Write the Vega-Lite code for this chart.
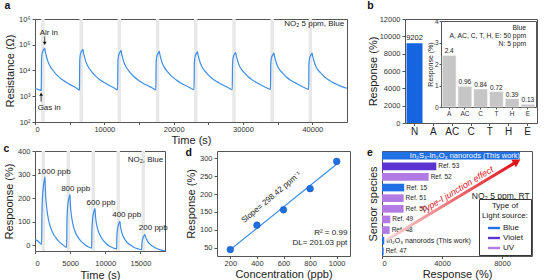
{
  "$schema": "https://vega.github.io/schema/vega-lite/v6.json",
  "padding": {"left": 2, "top": 0, "right": 2, "bottom": 0},
  "spacing": -3,
  "resolve": {"legend": {"color": "independent", "shape": "independent"}},
  "config": {
    "font": "Liberation Sans",
    "view": {"stroke": "#555", "strokeWidth": 1},
    "axis": {"domain": false, "grid": false, "tickColor": "#555", "tickSize": 3, "labelFontSize": 7.5, "labelColor": "#333", "titleFontSize": 11, "titleFontWeight": "normal", "titleColor": "#222", "labelPadding": 2, "titlePadding": 3},
    "axisX": {"tickSize": 2.5, "labelPadding": 1, "titlePadding": 1},
    "title": {"anchor": "start", "frame": "bounds", "fontSize": 10.5, "fontWeight": "bold", "offset": 0, "color": "#111"}
  },
  "datasets": {
    "bandsA": [
      {"t": 900, "t2": 1400, "r": 100, "r2": 1000000},
      {"t": 6410, "t2": 6910, "r": 100, "r2": 1000000},
      {"t": 11920, "t2": 12420, "r": 100, "r2": 1000000},
      {"t": 17430, "t2": 17930, "r": 100, "r2": 1000000},
      {"t": 22940, "t2": 23440, "r": 100, "r2": 1000000},
      {"t": 28450, "t2": 28950, "r": 100, "r2": 1000000},
      {"t": 33960, "t2": 34460, "r": 100, "r2": 1000000},
      {"t": 39470, "t2": 39970, "r": 100, "r2": 1000000}
    ],
    "resist": [
      {"t": 0, "r": 2000}, {"t": 500, "r": 1820}, {"t": 900, "r": 1700},
      {"t": 940, "r": 26000}, {"t": 1020, "r": 44000}, {"t": 1150, "r": 58000}, {"t": 1300, "r": 68000}, {"t": 1400, "r": 74000},
      {"t": 1460, "r": 58000}, {"t": 1600, "r": 40000}, {"t": 1800, "r": 25000}, {"t": 2100, "r": 16000}, {"t": 2600, "r": 10000},
      {"t": 3200, "r": 6500}, {"t": 3800, "r": 4700}, {"t": 4500, "r": 3500}, {"t": 5200, "r": 2700}, {"t": 5900, "r": 2150}, {"t": 6410, "r": 1750},
      {"t": 6450, "r": 24000}, {"t": 6530, "r": 40000}, {"t": 6660, "r": 52000}, {"t": 6810, "r": 61000}, {"t": 6910, "r": 66000},
      {"t": 6970, "r": 52000}, {"t": 7110, "r": 36000}, {"t": 7310, "r": 23000}, {"t": 7610, "r": 15000}, {"t": 8110, "r": 9500},
      {"t": 8710, "r": 6200}, {"t": 9310, "r": 4500}, {"t": 10010, "r": 3400}, {"t": 10710, "r": 2600}, {"t": 11410, "r": 2100}, {"t": 11920, "r": 1750},
      {"t": 11960, "r": 22000}, {"t": 12040, "r": 36000}, {"t": 12170, "r": 47000}, {"t": 12320, "r": 55000}, {"t": 12420, "r": 60000},
      {"t": 12480, "r": 47000}, {"t": 12620, "r": 33000}, {"t": 12820, "r": 21000}, {"t": 13120, "r": 14000}, {"t": 13620, "r": 9000},
      {"t": 14220, "r": 6000}, {"t": 14820, "r": 4400}, {"t": 15520, "r": 3300}, {"t": 16220, "r": 2600}, {"t": 16920, "r": 2100}, {"t": 17430, "r": 1750},
      {"t": 17470, "r": 20000}, {"t": 17550, "r": 33000}, {"t": 17680, "r": 43000}, {"t": 17830, "r": 51000}, {"t": 17930, "r": 55000},
      {"t": 17990, "r": 44000}, {"t": 18130, "r": 31000}, {"t": 18330, "r": 20000}, {"t": 18630, "r": 13500}, {"t": 19130, "r": 8800},
      {"t": 19730, "r": 5900}, {"t": 20330, "r": 4400}, {"t": 21030, "r": 3300}, {"t": 21730, "r": 2600}, {"t": 22430, "r": 2100}, {"t": 22940, "r": 1800},
      {"t": 22980, "r": 19000}, {"t": 23060, "r": 32000}, {"t": 23190, "r": 42000}, {"t": 23340, "r": 49000}, {"t": 23440, "r": 53000},
      {"t": 23500, "r": 42000}, {"t": 23640, "r": 30000}, {"t": 23840, "r": 19500}, {"t": 24140, "r": 13000}, {"t": 24640, "r": 8600},
      {"t": 25240, "r": 5800}, {"t": 25840, "r": 4300}, {"t": 26540, "r": 3300}, {"t": 27240, "r": 2600}, {"t": 27940, "r": 2100}, {"t": 28450, "r": 1800},
      {"t": 28490, "r": 18000}, {"t": 28570, "r": 30000}, {"t": 28700, "r": 40000}, {"t": 28850, "r": 46000}, {"t": 28950, "r": 50000},
      {"t": 29010, "r": 40000}, {"t": 29150, "r": 28500}, {"t": 29350, "r": 18500}, {"t": 29650, "r": 12500}, {"t": 30150, "r": 8400},
      {"t": 30750, "r": 5700}, {"t": 31350, "r": 4300}, {"t": 32050, "r": 3300}, {"t": 32750, "r": 2600}, {"t": 33450, "r": 2100}, {"t": 33960, "r": 1850},
      {"t": 34000, "r": 17000}, {"t": 34080, "r": 28000}, {"t": 34210, "r": 37000}, {"t": 34360, "r": 43500}, {"t": 34460, "r": 47000},
      {"t": 34520, "r": 38000}, {"t": 34660, "r": 27000}, {"t": 34860, "r": 18000}, {"t": 35160, "r": 12000}, {"t": 35660, "r": 8200},
      {"t": 36260, "r": 5600}, {"t": 36860, "r": 4200}, {"t": 37560, "r": 3300}, {"t": 38260, "r": 2600}, {"t": 38960, "r": 2100}, {"t": 39470, "r": 1850},
      {"t": 39510, "r": 17000}, {"t": 39590, "r": 28000}, {"t": 39720, "r": 37000}, {"t": 39870, "r": 43500}, {"t": 39970, "r": 47000},
      {"t": 40030, "r": 38000}, {"t": 40170, "r": 27000}, {"t": 40370, "r": 18000}, {"t": 40670, "r": 12000}, {"t": 41170, "r": 8200},
      {"t": 41770, "r": 5600}, {"t": 42370, "r": 4300}, {"t": 43070, "r": 3300}, {"t": 43770, "r": 2700}, {"t": 44470, "r": 2250}, {"t": 45000, "r": 2050}
    ],
    "arrowsA": [
      {"t": 1400, "r": 210000, "r2": 118000},
      {"t": 880, "r": 620, "r2": 1150}
    ],
    "headsA": [
      {"t": 1400, "r": 112000, "dir": "down"},
      {"t": 880, "r": 1220, "dir": "up"}
    ],
    "notesA": [
      {"t": 2000, "r": 290000, "note": "Air in"},
      {"t": 2050, "r": 350, "note": "Gas in"}
    ],
    "sel": [
      {"gas": "N", "resp": 9202},
      {"gas": "A", "resp": 2.4},
      {"gas": "AC", "resp": 0.96},
      {"gas": "C", "resp": 0.84},
      {"gas": "T", "resp": 0.72},
      {"gas": "H", "resp": 0.39},
      {"gas": "E", "resp": 0.13}
    ],
    "insetNote": [
      {"gas": "E", "resp": 3.67, "note": "Blue"},
      {"gas": "E", "resp": 3.3, "note": "A, AC, C, T, H, E: 50 ppm"},
      {"gas": "E", "resp": 2.93, "note": "N: 5 ppm"}
    ],
    "bandsC": [
      {"t": 940, "t2": 1420, "v": -25, "v2": 400},
      {"t": 4500, "t2": 4980, "v": -25, "v2": 400},
      {"t": 8060, "t2": 8540, "v": -25, "v2": 400},
      {"t": 11610, "t2": 12090, "v": -25, "v2": 400},
      {"t": 15170, "t2": 15650, "v": -25, "v2": 400}
    ],
    "respC": [
      {"t": 0, "v": 25}, {"t": 500, "v": 15}, {"t": 940, "v": 3},
      {"t": 980, "v": 120}, {"t": 1060, "v": 200}, {"t": 1200, "v": 250}, {"t": 1330, "v": 276}, {"t": 1420, "v": 290},
      {"t": 1480, "v": 232}, {"t": 1600, "v": 178}, {"t": 1800, "v": 128}, {"t": 2100, "v": 86}, {"t": 2500, "v": 54},
      {"t": 3000, "v": 30}, {"t": 3500, "v": 13}, {"t": 4000, "v": 1}, {"t": 4500, "v": -10},
      {"t": 4540, "v": 90}, {"t": 4620, "v": 150}, {"t": 4760, "v": 190}, {"t": 4890, "v": 207}, {"t": 4980, "v": 215},
      {"t": 5040, "v": 172}, {"t": 5160, "v": 132}, {"t": 5360, "v": 93}, {"t": 5660, "v": 61}, {"t": 6060, "v": 36},
      {"t": 6560, "v": 16}, {"t": 7060, "v": 3}, {"t": 7560, "v": -7}, {"t": 8060, "v": -13},
      {"t": 8100, "v": 60}, {"t": 8180, "v": 105}, {"t": 8320, "v": 135}, {"t": 8450, "v": 148}, {"t": 8540, "v": 155},
      {"t": 8600, "v": 126}, {"t": 8720, "v": 96}, {"t": 8920, "v": 68}, {"t": 9220, "v": 44}, {"t": 9620, "v": 23},
      {"t": 10120, "v": 7}, {"t": 10620, "v": -5}, {"t": 11120, "v": -12}, {"t": 11610, "v": -16},
      {"t": 11650, "v": 35}, {"t": 11730, "v": 65}, {"t": 11870, "v": 86}, {"t": 12000, "v": 96}, {"t": 12090, "v": 101},
      {"t": 12150, "v": 83}, {"t": 12270, "v": 63}, {"t": 12470, "v": 43}, {"t": 12770, "v": 25}, {"t": 13170, "v": 10},
      {"t": 13670, "v": -2}, {"t": 14170, "v": -11}, {"t": 14670, "v": -16}, {"t": 15170, "v": -19},
      {"t": 15210, "v": 5}, {"t": 15290, "v": 22}, {"t": 15430, "v": 35}, {"t": 15560, "v": 42}, {"t": 15650, "v": 45},
      {"t": 15710, "v": 38}, {"t": 15830, "v": 28}, {"t": 16030, "v": 16}, {"t": 16330, "v": 5}, {"t": 16730, "v": -5},
      {"t": 17230, "v": -13}, {"t": 17730, "v": -19}, {"t": 18200, "v": -22}, {"t": 18500, "v": -24}
    ],
    "labelsC": [
      {"t": 2700, "v": 311, "note": "1000 ppb"},
      {"t": 5780, "v": 240, "note": "800 ppb"},
      {"t": 9390, "v": 180, "note": "600 ppb"},
      {"t": 13040, "v": 130, "note": "400 ppb"},
      {"t": 16830, "v": 71, "note": "200 ppb"}
    ],
    "fitD": [
      {"conc": 185, "resp": 40}, {"conc": 1015, "resp": 288}
    ],
    "pointsD": [
      {"conc": 200, "resp": 45}, {"conc": 400, "resp": 113}, {"conc": 600, "resp": 156},
      {"conc": 800, "resp": 215}, {"conc": 1000, "resp": 291}
    ],
    "notesD": [
      {"conc": 1080, "resp": 90, "note": "R² = 0.99"},
      {"conc": 1080, "resp": 62, "note": "DL= 201.03 ppt"}
    ],
    "sensors": [
      {"name": "s1", "label": "In₂S₃-In₂O₃ nanorods (This work)", "v": 9202, "light": "Blue"},
      {"name": "r53", "label": "Ref. 53", "v": 3620, "light": "Violet"},
      {"name": "r52", "label": "Ref. 52", "v": 3110, "light": "UV"},
      {"name": "r15", "label": "Ref. 15", "v": 1480, "light": "Blue"},
      {"name": "r51", "label": "Ref. 51", "v": 1440, "light": "UV"},
      {"name": "r50", "label": "Ref. 50", "v": 1440, "light": "UV"},
      {"name": "r49", "label": "Ref. 49", "v": 550, "light": "UV"},
      {"name": "r48", "label": "Ref. 48", "v": 510, "light": "UV"},
      {"name": "s0", "label": "In₂O₃ nanorods (This work)", "v": 150, "light": "Blue"},
      {"name": "r47", "label": "Ref. 47", "v": 110, "light": "Blue"}
    ],
    "arrowE": [
      {"v": 330, "k": 1.55}, {"v": 8850, "k": 8.87}
    ],
    "headE": [
      {"v": 9000, "k": 9.0}
    ],
    "notesE": [
      {"v": 5000, "k": 6.3, "note": "Type-I junction effect"}
    ],
    "condE": [
      {"v": 9850, "k": 5.69, "note": "NO₂ 5 ppm, RT"}
    ]
  },
  "vconcat": [
    {
      "spacing": 16,
      "hconcat": [
        {
          "title": "a",
          "width": 312,
          "height": 103,
          "encoding": {
            "x": {"field": "t", "type": "quantitative", "scale": {"domain": [0, 45000], "nice": false},
                  "axis": {"title": "Time (s)", "values": [0, 5000, 10000, 15000, 20000, 25000, 30000, 35000, 40000], "labelExpr": "datum.value % 10000 === 0 ? format(datum.value, 'd') : ''"}},
            "y": {"field": "r", "type": "quantitative", "scale": {"type": "log", "domain": [100, 1000000], "nice": false},
                  "axis": {"title": "Resistance (Ω)", "values": [100, 1000, 10000, 100000, 1000000],
                           "labelExpr": "datum.value == 100 ? '10²' : datum.value == 1000 ? '10³' : datum.value == 10000 ? '10⁴' : datum.value == 100000 ? '10⁵' : '10⁶'"}}
          },
          "layer": [
            {"data": {"name": "bandsA"}, "mark": {"type": "rect", "color": "#e8e8e8"},
             "encoding": {"x2": {"field": "t2"}, "y2": {"field": "r2"}}},
            {"data": {"name": "resist"}, "mark": {"type": "line", "color": "#3d8ee8", "strokeWidth": 1.2, "interpolate": "monotone"}},
            {"data": {"name": "arrowsA"}, "mark": {"type": "rule", "color": "#111", "strokeWidth": 0.8},
             "encoding": {"y2": {"field": "r2"}}},
            {"data": {"name": "headsA"}, "mark": {"type": "point", "filled": true, "color": "#111", "size": 14, "opacity": 1},
             "encoding": {"shape": {"field": "dir", "type": "nominal", "scale": {"domain": ["down", "up"], "range": ["triangle-down", "triangle-up"]}, "legend": null}}},
            {"data": {"name": "notesA"}, "mark": {"type": "text", "fontSize": 8, "color": "#222"},
             "encoding": {"text": {"field": "note"}}},
            {"data": {"values": [{"t": 44600, "r": 650000, "note": "NO₂ 5 ppm, Blue"}]}, "mark": {"type": "text", "fontSize": 8, "color": "#222", "align": "right"},
             "encoding": {"text": {"field": "note"}}}
          ]
        },
        {
          "title": "b",
          "width": 132,
          "height": 104,
          "layer": [
            {
              "data": {"name": "sel"},
              "encoding": {
                "x": {"field": "gas", "type": "nominal", "sort": null,
                      "scale": {"domain": ["N", "A", "AC", "C", "T", "H", "E"], "paddingInner": 0.15, "paddingOuter": 0.08},
                      "axis": {"orient": "bottom", "title": null, "labelAngle": 0, "labelFontSize": 10, "labelColor": "#222"}},
                "y": {"field": "resp", "type": "quantitative", "scale": {"domain": [0, 12000], "nice": false},
                      "axis": {"orient": "left", "title": "Response (%)", "values": [0, 2000, 4000, 6000, 8000, 10000, 12000], "format": "d", "labelFontSize": 7.5, "titlePadding": 1}}
              },
              "layer": [
                {"mark": {"type": "bar", "color": "#1565e0"}},
                {"transform": [{"filter": "datum.gas === 'N'"}],
                 "mark": {"type": "text", "baseline": "bottom", "dy": -1, "fontSize": 7.5, "color": "#222"},
                 "encoding": {"text": {"field": "resp", "type": "quantitative", "format": "d"}}}
              ]
            },
            {
              "data": {"name": "sel"},
              "transform": [{"filter": "datum.gas !== 'N'"}],
              "encoding": {
                "x": {"field": "gas", "type": "nominal", "sort": null,
                      "scale": {"domain": ["A", "AC", "C", "T", "H", "E"], "range": [36, 131], "paddingInner": 0.12, "paddingOuter": 0.08},
                      "axis": {"orient": "bottom", "offset": -16, "title": null, "labelAngle": 0, "labelFontSize": 6.5, "domain": true, "domainColor": "#555", "tickSize": 2, "labelPadding": 1}},
                "y": {"field": "resp", "type": "quantitative", "scale": {"domain": [0, 4], "range": [88, 2], "nice": false},
                      "axis": {"orient": "left", "offset": -36, "title": "Response (%)", "titleFontSize": 7, "labelFontSize": 6.5, "values": [0, 1, 2, 3, 4], "domain": true, "domainColor": "#555", "tickSize": 2, "labelPadding": 1, "titlePadding": 1}}
              },
              "layer": [
                {"mark": {"type": "bar", "color": "#c6c6c6", "stroke": "white", "strokeWidth": 0.5}},
                {"mark": {"type": "text", "baseline": "bottom", "dy": -1, "fontSize": 6.5, "color": "#222"},
                 "encoding": {"text": {"field": "resp", "type": "quantitative"}}}
              ]
            },
            {
              "data": {"name": "insetNote"},
              "mark": {"type": "text", "align": "right", "fontSize": 6.8, "color": "#222", "dx": -2},
              "encoding": {
                "x": {"field": "gas", "type": "nominal", "bandPosition": 1,
                      "scale": {"domain": ["A", "AC", "C", "T", "H", "E"], "range": [36, 131], "paddingInner": 0.12, "paddingOuter": 0.08},
                      "axis": {"orient": "top", "offset": -2, "labels": false, "ticks": false, "title": null, "domain": true, "domainColor": "#555"}},
                "y": {"field": "resp", "type": "quantitative", "scale": {"domain": [0, 4], "range": [88, 2], "nice": false},
                      "axis": {"orient": "right", "offset": -1, "labels": false, "ticks": false, "title": null, "domain": true, "domainColor": "#555"}},
                "text": {"field": "note"}
              }
            }
          ],
          "resolve": {"scale": {"x": "independent", "y": "independent"}, "axis": {"x": "independent", "y": "independent"}}
        }
      ]
    },
    {
      "spacing": 15,
      "resolve": {"legend": {"color": "independent"}},
      "hconcat": [
        {
          "title": {"text": "c", "offset": -7},
          "width": 130,
          "height": 100,
          "encoding": {
            "x": {"field": "t", "type": "quantitative", "scale": {"domain": [0, 18500], "nice": false},
                  "axis": {"title": "Time (s)", "values": [0, 5000, 10000, 15000], "format": "d", "labelPadding": 6, "titlePadding": 2}},
            "y": {"field": "v", "type": "quantitative", "scale": {"domain": [-25, 400], "nice": false},
                  "axis": {"title": "Respoonse (%)", "values": [0, 100, 200, 300, 400], "format": "d"}}
          },
          "layer": [
            {"data": {"name": "bandsC"}, "mark": {"type": "rect", "color": "#e8e8e8"},
             "encoding": {"x2": {"field": "t2"}, "y2": {"field": "v2"}}},
            {"data": {"name": "respC"}, "mark": {"type": "line", "color": "#3d8ee8", "strokeWidth": 1.2, "interpolate": "monotone"}},
            {"data": {"name": "labelsC"}, "mark": {"type": "text", "fontSize": 8, "color": "#222"},
             "encoding": {"text": {"field": "note"}}},
            {"data": {"values": [{"t": 18250, "v": 363, "note": "NO₂, Blue"}]}, "mark": {"type": "text", "fontSize": 8, "color": "#222", "align": "right"},
             "encoding": {"text": {"field": "note"}}}
          ]
        },
        {
          "title": {"text": "d", "offset": -7},
          "width": 133,
          "height": 105,
          "encoding": {
            "x": {"field": "conc", "type": "quantitative", "scale": {"domain": [100, 1100], "nice": false},
                  "axis": {"title": "Concentration (ppb)", "values": [200, 400, 600, 800, 1000], "format": "d"}},
            "y": {"field": "resp", "type": "quantitative", "scale": {"domain": [27, 320], "nice": false},
                  "axis": {"title": "Response (%)", "values": [50, 100, 150, 200, 250, 300], "format": "d"}}
          },
          "layer": [
            {"data": {"name": "fitD"}, "mark": {"type": "line", "color": "#3d8ee8", "strokeWidth": 1.2}},
            {"data": {"name": "pointsD"}, "mark": {"type": "point", "filled": true, "color": "#1f6fe0", "size": 45, "opacity": 1, "stroke": "#1a55b0", "strokeWidth": 0.5}},
            {"data": {"values": [{"conc": 510, "resp": 190, "note": "Slope= 298.42 ppm⁻¹"}]},
             "mark": {"type": "text", "fontSize": 8, "color": "#222", "angle": 320},
             "encoding": {"text": {"field": "note"}}},
            {"data": {"name": "notesD"}, "mark": {"type": "text", "fontSize": 8, "color": "#222", "align": "right"},
             "encoding": {"text": {"field": "note"}}}
          ]
        },
        {
          "title": {"text": "e", "offset": -7},
          "width": 150,
          "height": 105,
          "layer": [
            {
              "data": {"name": "sensors"},
              "encoding": {
                "x": {"field": "v", "type": "quantitative", "scale": {"domain": [0, 10000], "nice": false},
                      "axis": {"title": "Response (%)", "values": [0, 2000, 4000, 6000, 8000, 10000], "format": "d"}},
                "y": {"field": "name", "type": "nominal", "sort": null,
                      "scale": {"domain": ["s1", "r53", "r52", "r15", "r51", "r50", "r49", "r48", "s0", "r47"], "paddingInner": 0.28, "paddingOuter": 0.08},
                      "axis": {"labels": false, "ticks": false, "title": "Sensor species", "titlePadding": 4}}
              },
              "layer": [
                {"mark": {"type": "bar"},
                 "encoding": {"color": {"field": "light", "type": "nominal",
                   "scale": {"domain": ["Blue", "Violet", "UV"], "range": ["#2170e4", "#5a33d1", "#b27be3"]},
                   "legend": {"orient": "bottom-right", "offset": 1, "title": ["Type of", "Light source:"], "titleFontSize": 8, "titleFontWeight": "normal", "titleAlign": "center", "titleAnchor": "middle", "titleColor": "#222", "titlePadding": 2,
                              "labelFontSize": 8, "labelColor": "#222", "labelOffset": 3, "symbolType": "M-1,-0.2H1V0.2H-1Z", "symbolSize": 144, "symbolStrokeWidth": 0, "rowPadding": 0, "padding": 3, "strokeColor": "#333", "fillColor": "white"}}}},
                {"transform": [{"filter": "datum.name === 's1'"}],
                 "mark": {"type": "text", "fontSize": 7.5, "color": "white"},
                 "encoding": {"x": {"datum": 5530}, "text": {"field": "label"}}},
                {"transform": [{"filter": "datum.name === 's0'"}],
                 "mark": {"type": "text", "fontSize": 7, "color": "#222", "align": "left", "dx": 2},
                 "encoding": {"text": {"field": "label"}}},
                {"transform": [{"filter": "indexof(datum.name, 'r') === 0"}],
                 "mark": {"type": "text", "fontSize": 6.5, "color": "#222", "align": "left", "dx": 2},
                 "encoding": {"text": {"field": "label"}}}
              ]
            },
            {
              "encoding": {
                "x": {"field": "v", "type": "quantitative"},
                "y": {"field": "k", "type": "quantitative", "scale": {"domain": [0, 10], "nice": false}, "axis": null}
              },
              "layer": [
                {"data": {"name": "arrowE"},
                 "mark": {"type": "line", "strokeWidth": 3,
                          "color": {"gradient": "linear", "stops": [{"offset": 0, "color": "#f8d6d6"}, {"offset": 1, "color": "#e3121b"}]}}},
                {"data": {"name": "headE"},
                 "mark": {"type": "point", "shape": "triangle-up", "angle": 59, "filled": true, "color": "#e3121b", "size": 80, "opacity": 1}},
                {"data": {"name": "notesE"},
                 "mark": {"type": "text", "fontSize": 9, "fontStyle": "italic", "color": "#e3121b", "angle": 329},
                 "encoding": {"text": {"field": "note"}}},
                {"data": {"name": "condE"},
                 "mark": {"type": "text", "fontSize": 8.5, "color": "#222", "align": "right"},
                 "encoding": {"text": {"field": "note"}}}
              ]
            }
          ],
          "resolve": {"scale": {"y": "independent"}, "axis": {"y": "independent"}}
        }
      ]
    }
  ]
}
